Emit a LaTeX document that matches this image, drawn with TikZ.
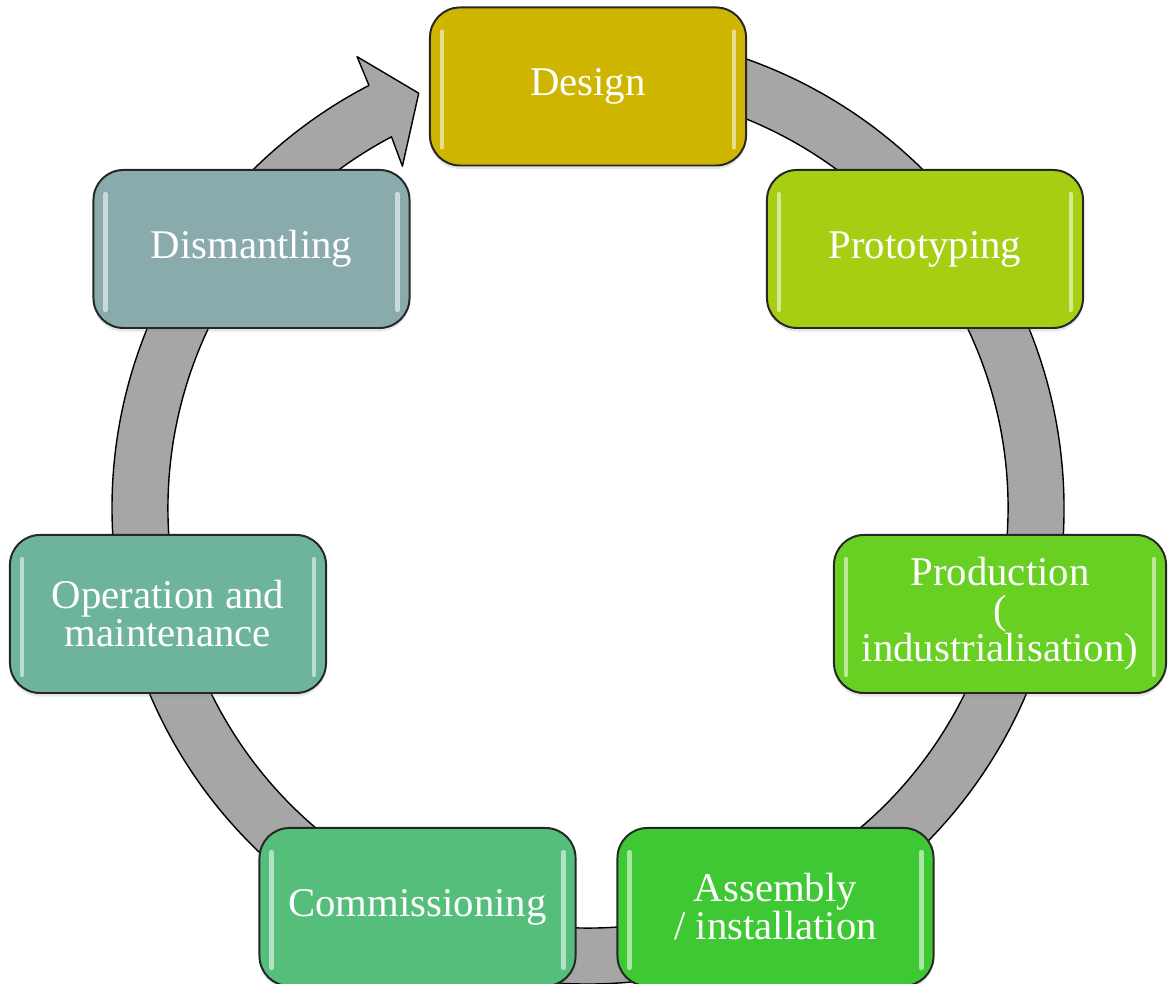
\documentclass[tikz,border=0pt]{standalone}
\usepackage{fontspec}
\setmainfont{Liberation Serif}
\usetikzlibrary{positioning}
\usetikzlibrary{shadows}

\definecolor{designcol}{HTML}{CEB500}
\definecolor{protocol}{HTML}{A6CE12}
\definecolor{prodcol}{HTML}{68CF23}
\definecolor{assemcol}{HTML}{3EC834}
\definecolor{commiscol}{HTML}{54BE7A}
\definecolor{opercol}{HTML}{6EB49C}
\definecolor{dismcol}{HTML}{8AABAC}
\definecolor{ringcol}{HTML}{A6A6A6}

\tikzset{
phase/.style = {draw=black!85, line width=1.4pt, rounded corners=0.75cm,
                minimum width=7.9cm, minimum height=3.95cm,
                text=white, align=center, fill=#1,
                font=\fontsize{29}{27}\selectfont,
                drop shadow={opacity=0.2, shadow xshift=0pt, shadow yshift=-2.5pt},
                path picture={% glossy strips along both sides
                  \draw[#1!35!white, opacity=0.85, line width=3pt, line cap=round]
                    ([xshift=0.3cm, yshift=0.45cm]path picture bounding box.south west)
                      -- ([xshift=0.3cm, yshift=-0.6cm]path picture bounding box.north west)
                    ([xshift=-0.3cm, yshift=0.45cm]path picture bounding box.south east)
                      -- ([xshift=-0.3cm, yshift=-0.6cm]path picture bounding box.north east);
                }},
ring/.style = {fill=ringcol, draw=black, line width=1pt, line join=round}
}

\begin{document}
\begin{tikzpicture}[x=0.025cm, y=0.025cm]
    \useasboundingbox (0,0) rectangle (1168,984);
    \begin{scope}
    \clip (0,0) rectangle (1168,984);

    % the cycle arrow behind the boxes
    \coordinate (c) at (588,476);
    \begin{scope}[shift={(c)}]
    \draw[ring] (95:476) arc[start angle=95, end angle=-242.6, radius=476]
        -- (117.1:507) -- (112.2:448) -- (118.5:389) -- (-242.1:420)
        arc[start angle=-242.1, end angle=95, radius=420] -- cycle;
    \end{scope}

    % the seven phases
    \node[phase=designcol] (design) at (588,897.5) {Design};
    \node[phase=protocol] (proto) at (925,735) {Prototyping};
    \node[phase=prodcol, minimum width=8.3cm] (prod) at (1000,370)
        {Production\\(\\industrialisation)};
    \node[phase=assemcol] (assem) at (775.5,77) {Assembly\\/ installation};
    \node[phase=commiscol] (commis) at (417.5,77) {Commissioning};
    \node[phase=opercol] (oper) at (168,370) {Operation and\\maintenance};
    \node[phase=dismcol] (dism) at (251.5,735) {Dismantling};
    \end{scope}
\end{tikzpicture}
\end{document}
